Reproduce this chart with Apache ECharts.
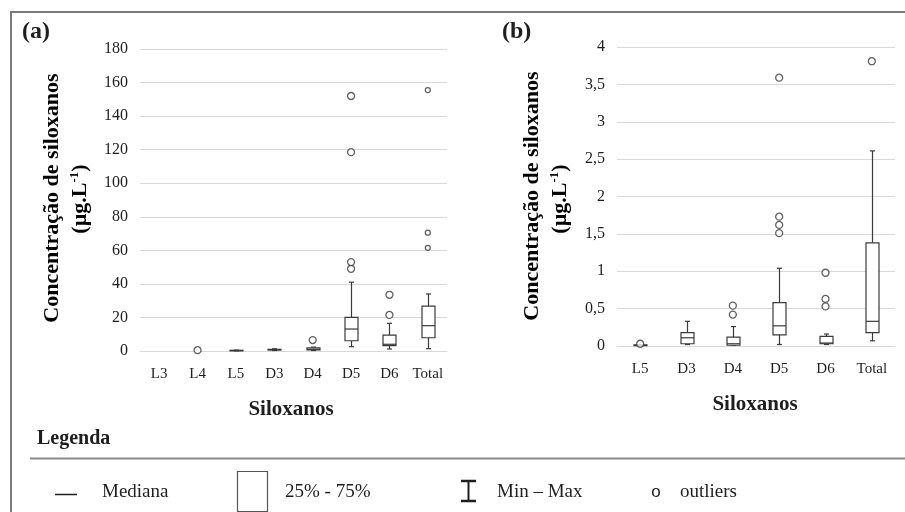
<!DOCTYPE html>
<html>
<head>
<meta charset="utf-8">
<script src="https://cdn.jsdelivr.net/npm/echarts@6/dist/echarts.min.js"></script>
<style>
  html, body { margin: 0; padding: 0; background: #fff; }
  #chart { width: 905px; height: 512px; }
</style>
</head>
<body>
<div id="chart"></div>
<script>
// Panel (a): all siloxanes
var categoriesA = ['L3', 'L4', 'L5', 'D3', 'D4', 'D5', 'D6', 'Total'];
// [min, Q1, median, Q3, max]; null = no box drawn
var boxesA = [
  null,
  null,
  [0.1, 0.2, 0.3, 0.4, 0.5],
  [0.3, 0.6, 0.8, 1.0, 1.3],
  [0.3, 0.6, 1.0, 1.9, 2.3],
  [2.6, 6.1, 13.1, 20.1, 41],
  [1.2, 3.2, 4.0, 9.5, 16.5],
  [1.4, 7.9, 15.1, 26.8, 34]
];
var outliersA = [
  ['L4', 0.5], ['D4', 6.5],
  ['D5', 49], ['D5', 53], ['D5', 118.5], ['D5', 152],
  ['D6', 21.5], ['D6', 33.5],
  ['Total', 61.5], ['Total', 70.5], ['Total', 155.5]
];
var ticksA = { min: 0, max: 180, interval: 20 };

// Panel (b): siloxanes at low concentration
var categoriesB = ['L5', 'D3', 'D4', 'D5', 'D6', 'Total'];
var boxesB = [
  [0, 0.005, 0.01, 0.015, 0.02],
  [0.02, 0.03, 0.11, 0.18, 0.33],
  [0.01, 0.01, 0.03, 0.12, 0.26],
  [0.02, 0.15, 0.27, 0.58, 1.04],
  [0.02, 0.03, 0.04, 0.13, 0.16],
  [0.07, 0.18, 0.33, 1.38, 2.61]
];
var outliersB = [
  ['L5', 0.03],
  ['D4', 0.42], ['D4', 0.54],
  ['D5', 1.51], ['D5', 1.62], ['D5', 1.73], ['D5', 3.59],
  ['D6', 0.53], ['D6', 0.63], ['D6', 0.98],
  ['Total', 3.81]
];
var ticksB = { min: 0, max: 4, interval: 0.5 };

var SERIF = '"Liberation Serif", "Times New Roman", serif';
var INK = '#1e1e1e';
var BOX_INK = '#3a3a3a';
var GRID = '#d9d9d9';

function boxData(boxes) {
  var out = [];
  boxes.forEach(function (b, i) {
    if (b) out.push([i].concat(b));
  });
  return out;
}

function renderBox(params, api) {
  var idx = api.value(0);
  var vals = [api.value(1), api.value(2), api.value(3), api.value(4), api.value(5)];
  var x = Math.round(api.coord([idx, 0])[0]) + 0.5;
  var ys = vals.map(function (v) { return api.coord([idx, v])[1]; });
  var half = 6.5, cap = 2.5;
  var ls = { stroke: BOX_INK, lineWidth: 1.2, fill: null };
  return {
    type: 'group',
    children: [
      { type: 'line', shape: { x1: x, y1: ys[0], x2: x, y2: ys[1] }, style: ls },
      { type: 'line', shape: { x1: x, y1: ys[3], x2: x, y2: ys[4] }, style: ls },
      { type: 'line', shape: { x1: x - cap, y1: ys[0], x2: x + cap, y2: ys[0] }, style: ls },
      { type: 'line', shape: { x1: x - cap, y1: ys[4], x2: x + cap, y2: ys[4] }, style: ls },
      { type: 'rect', shape: { x: x - half, y: ys[3], width: half * 2, height: Math.max(ys[1] - ys[3], 0.5) },
        style: { stroke: BOX_INK, lineWidth: 1.2, fill: '#fff' } },
      { type: 'line', shape: { x1: x - half, y1: ys[2], x2: x + half, y2: ys[2] }, style: ls }
    ]
  };
}

function xAxisFor(cats, gridIndex) {
  return {
    type: 'category', gridIndex: gridIndex, data: cats, boundaryGap: true,
    axisLine: { lineStyle: { color: GRID, width: 1 } },
    axisTick: { show: false },
    axisLabel: { color: INK, fontFamily: SERIF, fontSize: 15, margin: 16, interval: 0, hideOverlap: false },
    splitLine: { show: false }
  };
}

function yAxisFor(t, gridIndex, comma) {
  return {
    type: 'value', gridIndex: gridIndex, min: t.min, max: t.max, interval: t.interval,
    axisLine: { show: false }, axisTick: { show: false },
    axisLabel: {
      color: INK, fontFamily: SERIF, fontSize: 16, margin: 12,
      formatter: function (v) { return comma ? String(v).replace('.', ',') : String(v); }
    },
    splitLine: { lineStyle: { color: GRID, width: 1 } }
  };
}

var rich = {
  t: { fontFamily: SERIF, fontSize: 22, fontWeight: 'bold', color: INK },
  sup: { fontFamily: SERIF, fontSize: 13, fontWeight: 'bold', color: INK, padding: [0, 0, 10, 0] }
};

function vText(x, y, text) {
  return {
    type: 'text', x: x, y: y, rotation: Math.PI / 2,
    style: { text: text, rich: rich, align: 'center', verticalAlign: 'middle' }
  };
}

function hText(x, y, text, size, bold, align, family) {
  return {
    type: 'text', x: x, y: y,
    style: {
      text: text, fill: INK, fontFamily: family || SERIF, fontSize: size,
      fontWeight: bold ? 'bold' : 'normal', align: align || 'left', verticalAlign: 'middle'
    }
  };
}

var chart = echarts.init(document.getElementById('chart'), null, { renderer: 'canvas' });

chart.setOption({
  animation: false,
  backgroundColor: '#fff',
  grid: [
    { left: 140, right: 458, top: 49, bottom: 161 },
    { left: 617, right: 10, top: 47, bottom: 166 }
  ],
  xAxis: [xAxisFor(categoriesA, 0), xAxisFor(categoriesB, 1)],
  yAxis: [yAxisFor(ticksA, 0, false), yAxisFor(ticksB, 1, true)],
  series: [
    {
      type: 'custom', xAxisIndex: 0, yAxisIndex: 0,
      renderItem: renderBox, data: boxData(boxesA),
      encode: { x: 0, y: [1, 2, 3, 4, 5] }, z: 3
    },
    {
      type: 'custom', xAxisIndex: 1, yAxisIndex: 1,
      renderItem: renderBox, data: boxData(boxesB),
      encode: { x: 0, y: [1, 2, 3, 4, 5] }, z: 3
    },
    {
      type: 'scatter', xAxisIndex: 0, yAxisIndex: 0, data: outliersA,
      symbol: 'circle',
      symbolSize: function (v) { return v[0] === 'Total' ? 5 : 7; },
      itemStyle: { color: '#fff', borderColor: BOX_INK, borderWidth: 1.3 }, z: 4
    },
    {
      type: 'scatter', xAxisIndex: 1, yAxisIndex: 1, data: outliersB,
      symbol: 'circle', symbolSize: 7,
      itemStyle: { color: '#fff', borderColor: BOX_INK, borderWidth: 1.3 }, z: 4
    }
  ],
  graphic: [
    // outer frame
    { type: 'polyline', shape: { points: [[11, 512], [11, 12], [905, 12]] },
      style: { stroke: '#7a7a7a', lineWidth: 2, fill: null } },
    // panel tags
    hText(22, 32, '(a)', 24, true),
    hText(502, 32, '(b)', 24, true),
    // y-axis titles
    vText(52, 198, '{t|Concentração de siloxanos}'),
    vText(80, 199, '{t|(µg.L}{sup|-1}{t|)}'),
    vText(532, 196, '{t|Concentração de siloxanos}'),
    vText(560, 199, '{t|(µg.L}{sup|-1}{t|)}'),
    // x-axis titles
    hText(291, 410, 'Siloxanos', 21, true, 'center'),
    hText(755, 405, 'Siloxanos', 21, true, 'center'),
    // legend
    hText(37, 439, 'Legenda', 20, true),
    { type: 'line', shape: { x1: 30, y1: 458.5, x2: 905, y2: 458.5 },
      style: { stroke: '#8a8a8a', lineWidth: 2 } },
    { type: 'line', shape: { x1: 55, y1: 494.5, x2: 77, y2: 494.5 },
      style: { stroke: INK, lineWidth: 1.5 } },
    hText(102, 492, 'Mediana', 19, false),
    { type: 'rect', shape: { x: 237.5, y: 471.5, width: 30, height: 40 },
      style: { stroke: '#555', lineWidth: 1.2, fill: '#fff' } },
    hText(285, 492, '25% - 75%', 19, false),
    { type: 'line', shape: { x1: 468.5, y1: 481, x2: 468.5, y2: 501 },
      style: { stroke: INK, lineWidth: 2 } },
    { type: 'line', shape: { x1: 461, y1: 481, x2: 476, y2: 481 },
      style: { stroke: INK, lineWidth: 2.5 } },
    { type: 'line', shape: { x1: 461, y1: 501, x2: 476, y2: 501 },
      style: { stroke: INK, lineWidth: 2.5 } },
    hText(497, 492, 'Min – Max', 19, false),
    hText(656, 492, 'o', 17, false, 'center', '"Liberation Sans", Arial, sans-serif'),
    hText(680, 492, 'outliers', 19, false)
  ]
});
</script>
</body>
</html>
